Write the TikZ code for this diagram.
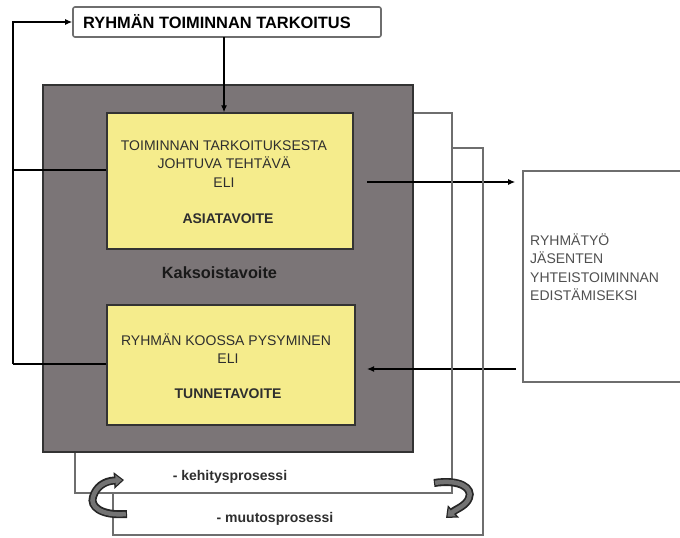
\documentclass[tikz,border=0pt]{standalone}
\usepackage{fontspec}
\setmainfont{Liberation Sans}
\usetikzlibrary{arrows.meta}
\definecolor{boxgray}{HTML}{7B7577}
\definecolor{goalyellow}{HTML}{F5EC8C}
\definecolor{edgedark}{HTML}{333333}
\definecolor{loopgray}{HTML}{6E6E6E}
\definecolor{txtdark}{HTML}{2E2E2E}
\definecolor{txtmid}{HTML}{505050}
\begin{document}
\begin{tikzpicture}[x=1pt,y=-1pt,
  panel/.style={draw=edgedark,line width=2pt,fill=boxgray,inner sep=0pt},
  goalbox/.style={draw=edgedark,line width=1.4pt,fill=goalyellow,inner sep=0pt},
  plainbox/.style={draw=loopgray,line width=1.6pt,fill=white,inner sep=0pt},
  txt/.style={anchor=base,inner sep=0pt,text=txtdark,font=\fontsize{14}{17}\selectfont},
  boldtxt/.style={txt,font=\fontsize{14}{17}\selectfont\bfseries},
  sidetxt/.style={anchor=base west,inner sep=0pt,text=txtmid,font=\fontsize{14}{17}\selectfont},
  blkline/.style={draw=black,line width=1.2pt},
  arr/.style={blkline,-{Latex[length=7pt,width=6pt]}},
  grayline/.style={draw=loopgray,line width=1.6pt},
  bendouter/.style={line width=8pt,draw=black!85,line cap=butt,-{Triangle[length=10pt,width=16pt]}},
  bendinner/.style={line width=4.5pt,draw=black!55,line cap=butt,shorten >=2pt,shorten <=1.2pt,-{Triangle[length=6.5pt,width=10.5pt]}},
]
\useasboundingbox (0,0) rectangle (680,538);

% outer frame and the two goal boxes
\node[panel,minimum width=370pt,minimum height=367pt] (outer) at (228,268.5) {};
\node[goalbox,minimum width=246pt,minimum height=136pt] (task) at (230,181) {};
\node[goalbox,minimum width=248pt,minimum height=120pt] (bond) at (231,365) {};

% purpose box on top and the team box on the right
\node[plainbox,rounded corners=2pt,minimum width=308pt,minimum height=30pt] (purpose) at (227,22) {};
\node[txt,font=\fontsize{16.4}{19}\selectfont\bfseries,text=black] (purposeT) at (217,28) {RYHMÄN TOIMINNAN TARKOITUS};
\node[plainbox,minimum width=197pt,minimum height=211pt] (team) at (621.5,276.5) {};

% texts of the goal boxes
\node[txt] (taskL1) at (224,150) {TOIMINNAN TARKOITUKSESTA};
\node[txt] (taskL2) at (224,168) {JOHTUVA TEHTÄVÄ};
\node[txt] (taskL3) at (224,187) {ELI};
\node[boldtxt] (taskL4) at (228,223) {ASIATAVOITE};
\node[txt] (bondL1) at (226,345) {RYHMÄN KOOSSA PYSYMINEN};
\node[txt] (bondL2) at (228,363) {ELI};
\node[boldtxt] (bondL3) at (228,398) {TUNNETAVOITE};
\node[boldtxt,font=\fontsize{16.3}{19}\selectfont\bfseries,text=black!90] (dual) at (219.5,278) {Kaksoistavoite};

% texts of the team box
\node[sidetxt] (teamL1) at (530,245) {RYHMÄTYÖ};
\node[sidetxt] (teamL2) at (530,263) {JÄSENTEN};
\node[sidetxt] (teamL3) at (530,282) {YHTEISTOIMINNAN};
\node[sidetxt] (teamL4) at (530,300) {EDISTÄMISEKSI};

% process labels
\node[boldtxt] (devT) at (230,480) {- kehitysprosessi};
\node[boldtxt] (chgT) at (275,522) {- muutosprosessi};

% feedback loop on the left
\coordinate (lA) at (13,170);
\coordinate (lB) at (13,364);
\draw[blkline] (task.west |- lA) -- (lA);
\draw[blkline] (bond.west |- lB) -- (lB);
\draw[arr] (lB) |- (purpose.west);

% purpose into the task box
\coordinate (pDown) at (224,37);
\draw[arr] (pDown) -- (pDown |- task.north);

% exchange with the team box
\coordinate (rA) at (367,182);
\coordinate (rB) at (367,369);
\draw[arr,shorten >=7pt] (rA) -- (team.west |- rA);
\draw[arr,shorten <=6pt] (team.west |- rB) -- (rB);

% process loops under the frame
\coordinate (g1) at (452,113);
\coordinate (g2) at (452,493);
\coordinate (g3) at (75,493);
\coordinate (h1) at (483,148);
\coordinate (h2) at (483,535);
\coordinate (h3) at (113,535);
\draw[grayline] (outer.east |- g1) -- (g1) -- (g2) -- (g3) -- (g3 |- outer.south);
\draw[grayline] (g1 |- h1) -- (h1) -- (h2) -- (h3) -- (h3 |- g3);

% turning arrows
\coordinate (cl0) at (127,514);
\coordinate (cl1) at (124,480);
\draw[bendouter] (cl0) .. controls (100,516) and (90,506) .. (93,497) .. controls (96,487) and (104,481) .. (cl1);
\draw[bendinner] (cl0) .. controls (100,516) and (90,506) .. (93,497) .. controls (96,487) and (104,481) .. (cl1);
\coordinate (cr0) at (434,483);
\coordinate (cr1) at (446,518);
\draw[bendouter] (cr0) .. controls (460,479) and (473,488) .. (469,498) .. controls (466,506) and (456,509) .. (cr1);
\draw[bendinner] (cr0) .. controls (460,479) and (473,488) .. (469,498) .. controls (466,506) and (456,509) .. (cr1);
\end{tikzpicture}
\end{document}
